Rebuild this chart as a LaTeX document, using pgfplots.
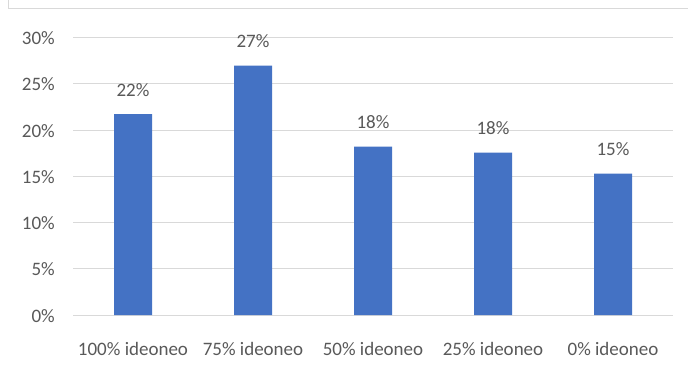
\documentclass[border=0pt]{standalone}
\usepackage{fontspec}
\setmainfont{Carlito}
\usepackage{pgfplots}
\pgfplotsset{compat=1.18}
\definecolor{barblue}{HTML}{4472C4}
\definecolor{gridgray}{HTML}{D9D9D9}
\definecolor{textgray}{HTML}{595959}
\newcommand{\lblfont}{\fontsize{19bp}{22bp}\selectfont}
\begin{document}
\begin{tikzpicture}[x=1bp,y=1bp]
\useasboundingbox (0,0) rectangle (688,376);
\fill[white] (0,0) rectangle (688,376);
% chart area frame (top and left edges)
\draw[gridgray, line width=1bp] (8,376) -- (8,367) -- (688,367);
\begin{axis}[
  at={(73bp,61bp)}, anchor=south west,
  scale only axis, width=600bp, height=277.3bp,
  xmin=-0.5, xmax=4.5, ymin=0, ymax=30,
  /pgf/number format/assume math mode=true,
  axis line style={draw=none},
  ytick={0,5,...,30},
  yticklabels={0\%,5\%,10\%,15\%,20\%,25\%,30\%},
  xtick={0,...,4},
  xticklabels={100\% ideoneo,75\% ideoneo,50\% ideoneo,25\% ideoneo,0\% ideoneo},
  major tick length=0pt,
  ymajorgrids, grid style={gridgray, line width=0.9bp},
  tick label style={font=\lblfont, text=textgray, inner sep=0pt},
  yticklabel style={anchor=base east, xshift=-18bp, yshift=-7bp},
  xticklabel style={anchor=base, yshift=-40.5bp},
  nodes near coords={\pgfmathprintnumber[fixed,precision=0,assume math mode=true]{\pgfplotspointmeta}\%},
  nodes near coords style={font=\lblfont, text=textgray, anchor=base, inner sep=0pt, yshift=18bp},
]
\addplot[ybar, bar width=38bp, fill=barblue, draw=none]
  coordinates {(0,21.74) (1,26.97) (2,18.21) (3,17.56) (4,15.29)};
\end{axis}
\end{tikzpicture}
\end{document}
